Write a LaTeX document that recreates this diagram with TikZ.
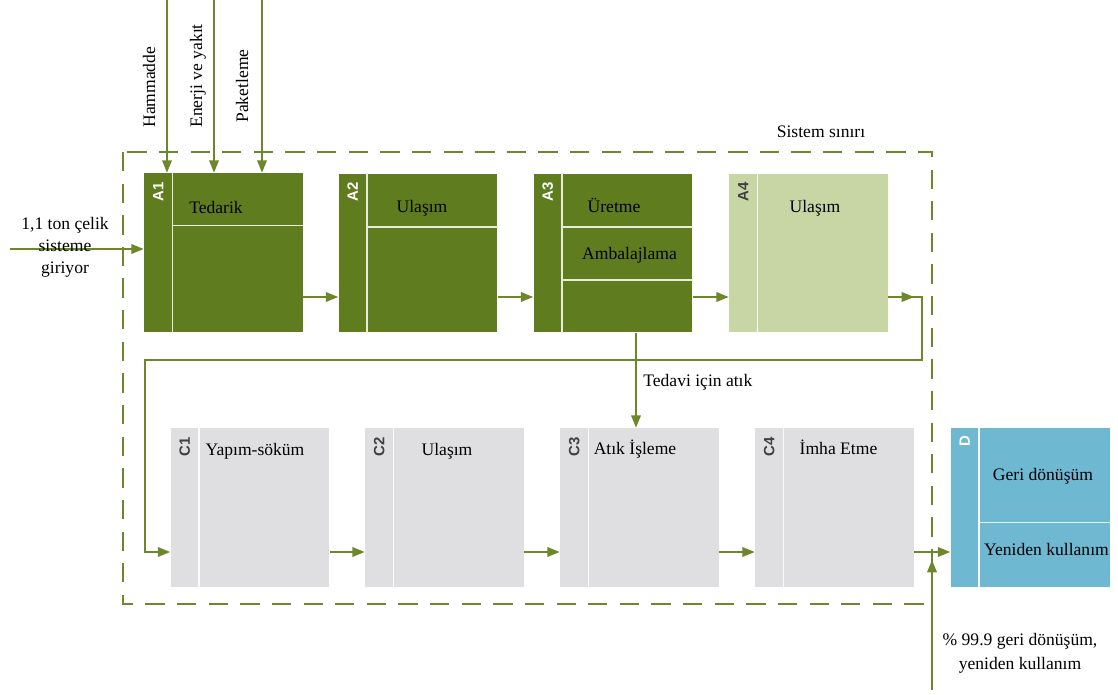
\documentclass[tikz,border=0pt]{standalone}
\usepackage{fontspec}
\setmainfont{Liberation Serif}
\setsansfont{Liberation Sans}
\usetikzlibrary{arrows.meta,calc}

\definecolor{verdeA}{RGB}{95,125,30}
\definecolor{verdeclaro}{RGB}{200,214,166}
\definecolor{grisC}{RGB}{223,223,226}
\definecolor{azulD}{RGB}{111,184,210}
\definecolor{verdeflecha}{RGB}{110,135,45}

\tikzset{
 caja/.style={minimum width=3.18cm, minimum height=3.18cm, inner sep=0pt},
 separador/.style={line width=0.8pt, white!85!#1},
 etiqueta/.style={rotate=90, anchor=east, font=\sffamily\bfseries\fontsize{8.5}{8.5}\selectfont, inner sep=0pt},
 texto/.style={anchor=base, inner sep=0pt},
 linea/.style={draw=verdeflecha, line width=0.8pt},
 flecha/.style={linea, -{Triangle[length=7pt,width=5.5pt]}},
}

\begin{document}
\begin{tikzpicture}[x=0.02cm, y=0.02cm]

 % marco del dibujo
 \useasboundingbox (0,0) rectangle (1118,-695);

 % --- LIMITE DEL SISTEMA ---
 \draw[verdeflecha, line width=1.3pt, dash pattern=on 11pt off 7pt] (123,-152) rectangle (932,-604);
 \node[texto] (limite) at (821,-138) {Sistem sınırı};

 % --- FILA A ---
 \node[caja, fill=verdeA] (A1) at (223.5,-252.5) {};
 \node[caja, fill=verdeA] (A2) at (418,-253) {};
 \node[caja, fill=verdeA] (A3) at (613,-253) {};
 \node[caja, fill=verdeclaro] (A4) at (808.5,-253) {};

 % franjas laterales y divisiones
 \foreach \c in {A1,A2,A3}
  \draw[separador=verdeA] ($(\c.north west)+(29,0)$) -- ($(\c.south west)+(29,0)$);
 \draw[separador=white] ($(A4.north west)+(29,0)$) -- ($(A4.south west)+(29,0)$);
 \draw[separador=verdeA] ($(A1.north west)+(29,-53)$) -- ($(A1.north east)+(0,-53)$);
 \draw[separador=verdeA] ($(A2.north west)+(29,-54)$) -- ($(A2.north east)+(0,-54)$);
 \draw[separador=verdeA] ($(A3.north west)+(29,-54)$) -- ($(A3.north east)+(0,-54)$);
 \draw[separador=verdeA] ($(A3.north west)+(29,-107)$) -- ($(A3.north east)+(0,-107)$);

 \foreach \c in {A1,A2,A3}
  \node[etiqueta, white] at ($(\c.north west)+(14.5,-9)$) {\c};
 \node[etiqueta, black!75] at ($(A4.north west)+(14.5,-9)$) {A4};

 \node[texto] (tA1) at (216,-214) {Tedarik};
 \node[texto] (tA2) at (422,-213) {Ulaşım};
 \node[texto] (tA3) at (614,-213) {Üretme};
 \node[texto] (tA3b) at (629.5,-260) {Ambalajlama};
 \node[texto] (tA4) at (815,-213) {Ulaşım};

 % --- FILA C Y D ---
 \node[caja, fill=grisC] (C1) at (250,-507.5) {};
 \node[caja, fill=grisC] (C2) at (444.5,-507.5) {};
 \node[caja, fill=grisC] (C3) at (639.5,-507.5) {};
 \node[caja, fill=grisC] (C4) at (834.5,-507.5) {};
 \node[caja, fill=azulD] (D) at (1030,-507.5) {};

 \foreach \c in {C1,C2,C3,C4,D}
  \draw[separador=grisC] ($(\c.north west)+(29,0)$) -- ($(\c.south west)+(29,0)$);
 \draw[separador=azulD] ($(D.north west)+(29,-95)$) -- ($(D.north east)+(0,-95)$);

 \foreach \c in {C1,C2,C3,C4}
  \node[etiqueta, black!75] at ($(\c.north west)+(14.5,-9)$) {\c};
 \node[etiqueta, white] at ($(D.north west)+(14.5,-8)$) {D};

 \node[texto] (tC1) at (255,-455) {Yapım-söküm};
 \node[texto] (tC2) at (447,-455) {Ulaşım};
 \node[texto] (tC3) at (635,-454) {Atık İşleme};
 \node[texto] (tC4) at (838.5,-454) {İmha Etme};
 \node[texto] (tD1) at (1043,-480) {Geri dönüşüm};
 \node[texto] (tD2) at (1046.5,-555) {Yeniden kullanım};

 % --- ENTRADAS ---
 \coordinate (yA) at (0,-297);
 \coordinate (yC) at (0,-552);
 \coordinate (entrada) at (10,-249);
 \draw[flecha] (entrada) -- (A1.west |- entrada);
 \node[align=center, font=\fontsize{10}{12.5}\selectfont, inner sep=0pt] (tEntrada) at (65,-247) {1,1 ton çelik\\sisteme\\giriyor};

 \coordinate (hA) at (167,0);
 \coordinate (hB) at (214,0);
 \coordinate (hC) at (262,0);
 \draw[flecha] (hA) -- (A1.north -| hA);
 \draw[flecha] (hB) -- (A1.north -| hB);
 \draw[flecha] (hC) -- (A1.north -| hC);
 \node[rotate=90, anchor=base west, inner sep=0pt] (tHam) at (155,-128) {Hammadde};
 \node[rotate=90, anchor=base west, inner sep=0pt] (tEne) at (202,-128) {Enerji ve yakıt};
 \node[rotate=90, anchor=base west, inner sep=0pt] (tPak) at (248,-123) {Paketleme};

 % --- FLUJOS ---
 \draw[flecha] (A1.east |- yA) -- (A2.west |- yA);
 \draw[flecha] (A2.east |- yA) -- (A3.west |- yA);
 \draw[flecha] (A3.east |- yA) -- (A4.west |- yA);

 % retorno de A4 a C1
 \coordinate (esquina) at (922,-297);
 \coordinate (retorno) at (145,-360);
 \draw[flecha] (A4.east |- yA) -- ($(esquina)+(-8,0)$);
 \draw[flecha] (A4.east |- yA) -- (esquina) |- (retorno) |- (C1.west |- yC);

 % residuo de A3 a C3
 \coordinate (xBaja) at (636,0);
 \draw[flecha] (A3.south -| xBaja) -- (C3.north -| xBaja);
 \node[anchor=base west, inner sep=0pt] (tAtik) at (643,-387) {Tedavi için atık};

 \draw[flecha] (C1.east |- yC) -- (C2.west |- yC);
 \draw[flecha] (C2.east |- yC) -- (C3.west |- yC);
 \draw[flecha] (C3.east |- yC) -- (C4.west |- yC);
 \draw[flecha] (C4.east |- yC) -- (D.west |- yC);

 % salida hacia abajo
 \coordinate (abajo) at (932,-690);
 \coordinate (arriba) at (932,-560);
 \draw[flecha] (abajo) -- (arriba);
 \node[align=center, font=\fontsize{10}{13.5}\selectfont, anchor=north, inner sep=0pt] (tSalida) at (1020,-633) {\% 99.9 geri dönüşüm,\\yeniden kullanım};

\end{tikzpicture}
\end{document}
